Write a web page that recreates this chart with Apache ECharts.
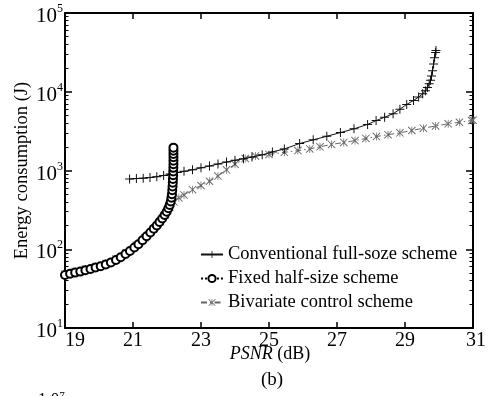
<!DOCTYPE html>
<html>
<head>
<meta charset="utf-8">
<script src="https://cdn.jsdelivr.net/npm/echarts@6/dist/echarts.min.js"></script>
<style>
html,body{margin:0;padding:0;background:#fff;}
#chart{width:490px;height:396px;}
</style>
</head>
<body>
<div id="chart"></div>
<script>
// ---- Data (PSNR dB, Energy J) ----
const seriesNames = ['Conventional full-soze scheme', 'Fixed half-size scheme', 'Bivariate control scheme'];

const conventional = [
  [20.90,780],[21.10,790],[21.30,800],[21.50,815],[21.70,835],[21.90,865],[22.10,900],
  [22.30,940],[22.50,975],[22.75,1020],[23.00,1080],[23.25,1140],[23.50,1210],[23.75,1280],
  [24.00,1350],[24.25,1410],[24.50,1480],[24.80,1580],[25.10,1720],[25.45,1880],[25.90,2200],
  [26.30,2450],[26.70,2720],[27.10,3030],[27.50,3380],[27.90,3850],[28.15,4300],[28.40,4750],
  [28.65,5250],[28.85,6000],[29.05,6900],[29.25,7750],[29.40,8550],[29.52,9400],[29.60,10300],
  [29.66,11300],[29.71,12600],[29.75,14000],[29.78,15800],[29.81,18500],[29.84,22500],
  [29.87,27000],[29.90,31500],[29.91,33500]
];

const fixedHalf = [
  [19.00,47],[19.15,49],[19.30,50.5],[19.45,52],[19.60,54],[19.75,56],[19.90,58.5],[20.05,61],
  [20.20,64],[20.35,68],[20.50,73],[20.64,79],[20.78,87],[20.91,95],[21.04,105],[21.16,116],
  [21.28,130],[21.40,146],[21.51,163],[21.61,182],[21.70,200],[21.78,222],[21.86,246],
  [21.93,272],[21.99,300],[22.04,332],[22.08,366],[22.11,405],[22.13,450],[22.145,500],
  [22.155,560],[22.163,625],[22.17,700],[22.175,780],[22.18,870],[22.184,970],[22.187,1080],
  [22.19,1200],[22.19,1330],[22.19,1470],[22.19,1620],[22.19,1780],[22.19,1950]
];

const bivariate = [
  [19.00,48],[19.30,52],[19.60,56],[19.90,60],[20.20,66],[20.50,75],[20.80,90],[21.10,112],
  [21.35,140],[21.60,180],[21.80,225],[21.95,275],[22.08,340],[22.20,400],[22.35,450],
  [22.50,490],[22.75,570],[23.00,645],[23.25,730],[23.50,850],[23.75,1020],[24.00,1200],
  [24.30,1420],[24.60,1530],[25.00,1600],[25.45,1700],[25.85,1790],[26.20,1880],[26.50,2000],
  [26.84,2140],[27.20,2270],[27.53,2400],[27.85,2550],[28.16,2700],[28.50,2850],[28.85,3010],
  [29.20,3220],[29.54,3450],[29.90,3680],[30.27,3920],[30.60,4100],[30.96,4310],[31.00,4350]
];

const xTicks = { min: 19, max: 31, interval: 2 };
const yTicks = { min: 10, max: 100000 };
const minorTickFactors = [2,3,4,5,6,7,8,9];

// ---- Chart ----
const minorLog = [];
for (let e = 1; e < 5; e++) minorTickFactors.forEach(k => minorLog.push(Math.log10(k * Math.pow(10, e))));

const serif = 'Liberation Serif';
const plusPath = 'path://M4.45,0H5.55V10H4.45ZM0,4.45H10V5.55H0Z';
const starPath = 'path://M0.8,0L10,9.2L9.2,10L0,0.8ZM9.2,0L10,0.8L0.8,10L0,9.2ZM4.55,0H5.45V10H4.55Z';

const chart = echarts.init(document.getElementById('chart'), null, {renderer: 'canvas'});

const baseX = (pos, showLabel) => ({
  type: 'value', position: pos, min: xTicks.min, max: xTicks.max, interval: xTicks.interval,
  axisLine: {show: true, onZero: false, lineStyle: {color: '#000', width: 2}},
  axisTick: {show: true, inside: true, length: 6, lineStyle: {color: '#000', width: 1.5}},
  axisLabel: {show: showLabel, fontFamily: serif, fontSize: 20, color: '#000', margin: 3,
    alignMinLabel: 'left', showMinLabel: true, showMaxLabel: true,
    formatter: v => (v === xTicks.max ? '{r|' + v + '}' : String(v)),
    rich: {r: {fontFamily: serif, fontSize: 20, color: '#000', padding: [0, 0, 0, 6]}}},
  splitLine: {show: false}
});

const baseY = (pos, showLabel) => ({
  type: 'log', logBase: 10, position: pos, min: yTicks.min, max: yTicks.max,
  axisLine: {show: true, onZero: false, lineStyle: {color: '#000', width: 2}},
  axisTick: {show: true, inside: true, length: 7, lineStyle: {color: '#000', width: 1.5}},
  axisLabel: {show: showLabel, margin: 2, color: '#000',
    formatter: v => '{b|10}{s|' + Math.round(Math.log10(v)) + '}',
    rich: {
      b: {fontFamily: serif, fontSize: 21, color: '#000', padding: [7, 0, 0, 0]},
      s: {fontFamily: serif, fontSize: 12, color: '#000', padding: [0, 0, 8, 0]}
    }},
  splitLine: {show: false}
});

const minorY = (pos) => ({
  type: 'value', position: pos, min: 1, max: 5,
  axisLine: {show: false},
  axisTick: {show: true, inside: true, length: 3.5, customValues: minorLog, lineStyle: {color: '#000', width: 1}},
  axisLabel: {show: false},
  splitLine: {show: false}
});

const yLeft = baseY('left', true);
yLeft.name = 'Energy consumption (J)';
yLeft.nameLocation = 'middle';
yLeft.nameGap = 33;
yLeft.nameMoveOverlap = false;
yLeft.nameTextStyle = {fontFamily: serif, fontSize: 18.5, color: '#000'};

const option = {
  backgroundColor: '#fff',
  animation: false,
  grid: {left: 65, right: 17, top: 13, bottom: 68, containLabel: false, outerBoundsMode: 'none'},
  xAxis: [baseX('bottom', true), baseX('top', false)],
  yAxis: [yLeft, baseY('right', false), minorY('left'), minorY('right')],
  legend: {
    orient: 'vertical', left: 195, top: 240, itemWidth: 22, itemHeight: 9, itemGap: 5,
    textStyle: {fontFamily: serif, fontSize: 18.5, color: '#000'},
    data: seriesNames
  },
  graphic: [
    {type: 'text', x: 270, y: 354, silent: true,
      style: {text: '{i|PSNR} (dB)', align: 'center', verticalAlign: 'middle',
        fontFamily: serif, fontSize: 18, fill: '#000',
        rich: {i: {fontFamily: serif, fontSize: 18, fontStyle: 'italic', fill: '#000'}}}},
    {type: 'text', x: 272, y: 380, silent: true,
      style: {text: '(b)', align: 'center', verticalAlign: 'middle', fontFamily: serif, fontSize: 19, fill: '#000'}},
    {type: 'text', x: 38, y: 391, silent: true,
      style: {text: '1.0{s|7}', align: 'left', verticalAlign: 'top', fontFamily: serif, fontSize: 17, fill: '#000',
        rich: {s: {fontFamily: serif, fontSize: 11, fill: '#000', padding: [0,0,6,0]}}}}
  ],
  series: [
    {
      name: seriesNames[0], type: 'line', data: conventional, xAxisIndex: 0, yAxisIndex: 0,
      symbol: plusPath, symbolSize: 9, showAllSymbol: true, z: 3,
      lineStyle: {color: '#111', width: 1}, itemStyle: {color: '#111'}
    },
    {
      name: seriesNames[1], type: 'line', data: fixedHalf, xAxisIndex: 0, yAxisIndex: 0,
      symbol: 'emptyCircle', symbolSize: 8, showAllSymbol: true, z: 4,
      lineStyle: {color: '#000', width: 1, type: 'dotted'},
      itemStyle: {color: '#000', borderColor: '#000', borderWidth: 0.8}
    },
    {
      name: seriesNames[2], type: 'line', data: bivariate, xAxisIndex: 0, yAxisIndex: 0,
      symbol: starPath, symbolSize: 8, showAllSymbol: true, z: 2,
      lineStyle: {color: '#666', width: 1, type: [6, 3, 1.5, 3]}, itemStyle: {color: '#666'}
    }
  ]
};
chart.setOption(option);
</script>
</body>
</html>
